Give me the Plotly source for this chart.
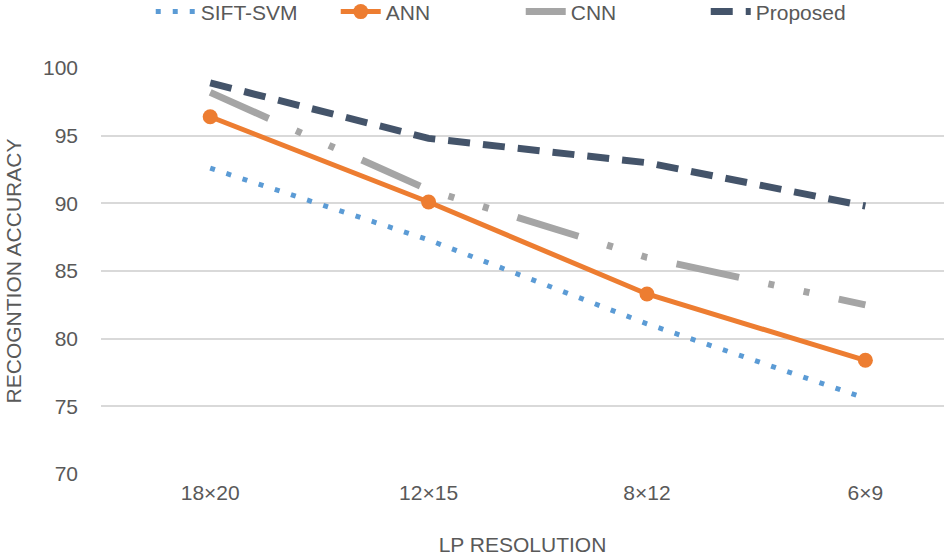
import plotly.graph_objects as go

categories = ["18×20", "12×15", "8×12", "6×9"]
sift_svm = [92.6, 87.3, 81.1, 75.6]
ann = [96.4, 90.1, 83.3, 78.4]
cnn = [98.2, 91.0, 86.0, 82.5]
proposed = [98.9, 94.8, 93.0, 89.8]
y_ticks = [70, 75, 80, 85, 90, 95, 100]

FONT = "Liberation Sans, Arial, sans-serif"
TXT = "#595959"

fig = go.Figure()
fig.add_trace(go.Scatter(
    x=categories, y=sift_svm, name="SIFT-SVM", mode="lines",
    line=dict(color="#5B9BD5", width=5, dash="5px,12px")))
fig.add_trace(go.Scatter(
    x=categories, y=ann, name="ANN", mode="lines+markers",
    line=dict(color="#ED7D31", width=5),
    marker=dict(size=15, color="#ED7D31")))
fig.add_trace(go.Scatter(
    x=categories, y=cnn, name="CNN", mode="lines",
    line=dict(color="#A5A5A5", width=7, dash="64px,30px,6px,30px,6px,30px")))
fig.add_trace(go.Scatter(
    x=categories, y=proposed, name="Proposed", mode="lines",
    line=dict(color="#44546A", width=7, dash="22px,13px")))

fig.update_layout(
    width=944, height=558,
    margin=dict(l=101, r=0, t=68, b=84, autoexpand=False),
    paper_bgcolor="white", plot_bgcolor="white",
    font=dict(family=FONT, size=21, color=TXT),
    showlegend=True,
    legend=dict(orientation="h", x=0.059, xanchor="left",
                y=1.138, yanchor="middle",
                font=dict(family=FONT, size=21, color=TXT),
                bgcolor="rgba(0,0,0,0)", itemwidth=40,
                entrywidth=130, entrywidthmode="pixels", tracegroupgap=0),
)
fig.update_xaxes(
    type="category", categoryorder="array", categoryarray=categories,
    range=[-0.5, 3.36], showgrid=False, zeroline=False, showline=False,
    ticks="", ticklabelstandoff=4, automargin=False,
    title=dict(text="LP RESOLUTION", standoff=34, font=dict(size=21, color=TXT)),
)
fig.update_yaxes(
    range=[70, 100], tickvals=y_ticks, showgrid=True, gridcolor="#D9D9D9",
    gridwidth=1.5, zeroline=False, showline=False, ticks="",
    ticklabelstandoff=22, automargin=False,
    title=dict(text="RECOGNTION ACCURACY", standoff=15, font=dict(size=21, color=TXT)),
)

fig.write_html("out.html", config={"displayModeBar": False},
               post_script="document.body.style.margin='0';")
